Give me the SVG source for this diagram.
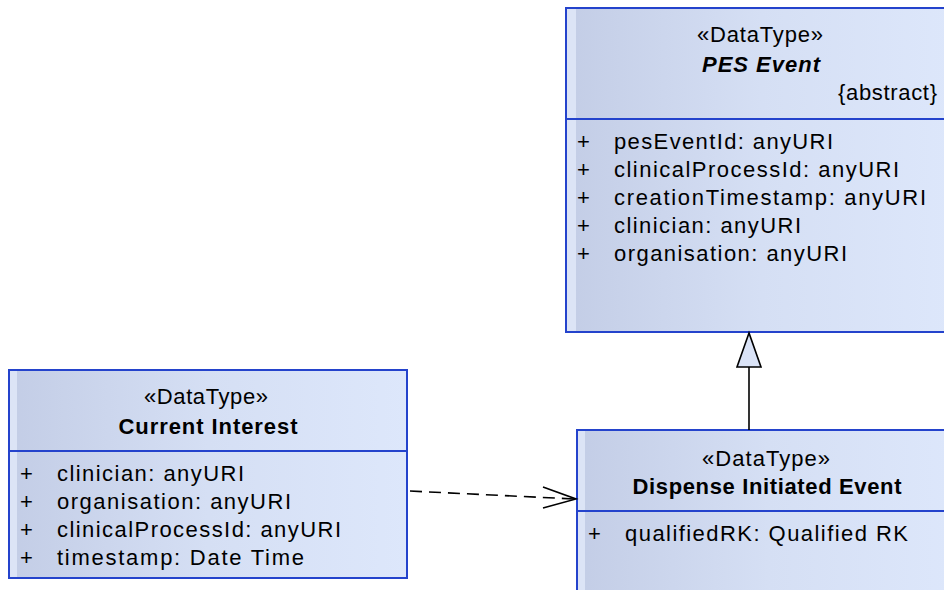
<svg xmlns="http://www.w3.org/2000/svg" width="944" height="590" viewBox="0 0 944 590">
  <style>
    .box { fill: url(#boxGrad); stroke: #2443cc; stroke-width: 2; }
    .strip { fill: #dce4f6; stroke: none; }
    .div { stroke: #2443cc; stroke-width: 2; fill: none; }
    text { font-family: "Liberation Sans", Arial, sans-serif; font-size: 22px; fill: #000; }
    .c { text-anchor: middle; }
    .b { font-weight: bold; }
    .bi { font-weight: bold; font-style: italic; }
    .conn { stroke: #000; stroke-width: 1.6; fill: none; }
    .dash { stroke-dasharray: 12 7; }
  </style>
  <defs>
    <linearGradient id="boxGrad" x1="0" y1="0" x2="1" y2="0">
      <stop offset="0" stop-color="#c3cde6"/>
      <stop offset="0.5" stop-color="#d5dff4"/>
      <stop offset="1" stop-color="#dde7fb"/>
    </linearGradient>
  </defs>

  <rect width="944" height="590" fill="#ffffff"/>

  <g id="pes-event">
    <rect class="box" x="566" y="8" width="390" height="324"/>
    <rect class="strip" x="567" y="9" width="9" height="322"/>
    <line class="div" x1="566" y1="119" x2="956" y2="119"/>
    <text class="c" x="760" y="42" textLength="126" lengthAdjust="spacing">«DataType»</text>
    <text class="c bi" x="761" y="72" textLength="118" lengthAdjust="spacing">PES Event</text>
    <text x="838" y="100" textLength="99" lengthAdjust="spacing">{abstract}</text>
    <text x="577" y="149">+</text>
    <text x="614" y="149" textLength="219" lengthAdjust="spacing">pesEventId: anyURI</text>
    <text x="577" y="177">+</text>
    <text x="614" y="177" textLength="285" lengthAdjust="spacing">clinicalProcessId: anyURI</text>
    <text x="577" y="205">+</text>
    <text x="614" y="205" textLength="312" lengthAdjust="spacing">creationTimestamp: anyURI</text>
    <text x="577" y="233">+</text>
    <text x="614" y="233" textLength="187" lengthAdjust="spacing">clinician: anyURI</text>
    <text x="577" y="261">+</text>
    <text x="614" y="261" textLength="233" lengthAdjust="spacing">organisation: anyURI</text>
  </g>

  <g id="current-interest">
    <rect class="box" x="9" y="370" width="398" height="208"/>
    <rect class="strip" x="10" y="371" width="7" height="206"/>
    <line class="div" x1="9" y1="451" x2="407" y2="451"/>
    <text class="c" x="206" y="404" textLength="124" lengthAdjust="spacing">«DataType»</text>
    <text class="c b" x="208" y="434" textLength="179" lengthAdjust="spacing">Current Interest</text>
    <text x="20" y="481">+</text>
    <text x="57" y="481" textLength="187" lengthAdjust="spacing">clinician: anyURI</text>
    <text x="20" y="509">+</text>
    <text x="57" y="509" textLength="234" lengthAdjust="spacing">organisation: anyURI</text>
    <text x="20" y="537">+</text>
    <text x="57" y="537" textLength="284" lengthAdjust="spacing">clinicalProcessId: anyURI</text>
    <text x="20" y="565">+</text>
    <text x="57" y="565" textLength="247" lengthAdjust="spacing">timestamp: Date Time</text>
  </g>

  <g id="dispense-initiated-event">
    <rect class="box" x="577" y="430" width="382" height="170"/>
    <rect class="strip" x="578" y="431" width="7" height="168"/>
    <line class="div" x1="577" y1="511" x2="959" y2="511"/>
    <text class="c" x="766" y="466" textLength="128" lengthAdjust="spacing">«DataType»</text>
    <text class="c b" x="767" y="494" textLength="269" lengthAdjust="spacing">Dispense Initiated Event</text>
    <text x="588" y="541">+</text>
    <text x="625" y="541" textLength="283" lengthAdjust="spacing">qualifiedRK: Qualified RK</text>
  </g>

  <g id="connectors">
    <line class="conn" x1="749" y1="430" x2="749" y2="367"/>
    <polygon points="749,333 737,367 761,367" fill="#dae3f7" stroke="#000" stroke-width="1.6" stroke-linejoin="miter"/>
    <line class="conn dash" x1="410" y1="491" x2="574" y2="499"/>
    <polyline class="conn" points="543,487 576,499 543,508"/>
  </g>
</svg>
